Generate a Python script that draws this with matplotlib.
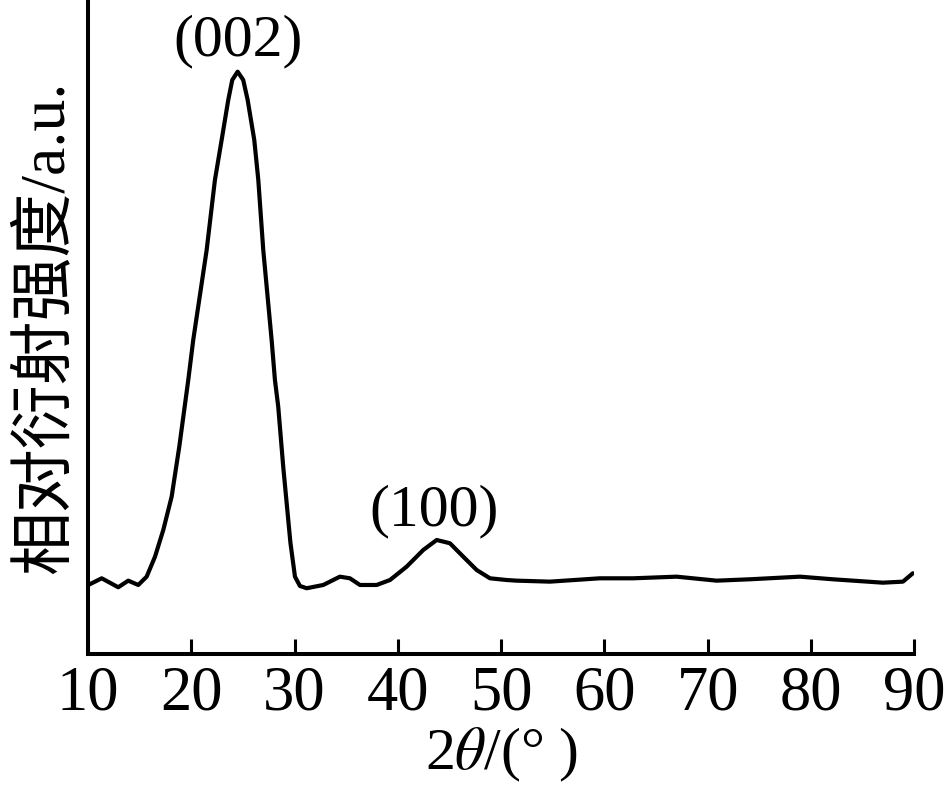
import matplotlib
matplotlib.use("Agg")
import matplotlib.pyplot as plt

plt.rcParams['font.family'] = ['Liberation Serif', 'Noto Sans CJK SC']
plt.rcParams['mathtext.fontset'] = 'stix'

two_theta = [10.03, 11.33, 12.93, 13.90, 14.87, 15.68, 16.49, 17.29, 18.10, 18.84,
             19.71, 20.19, 21.49, 22.29, 22.94, 23.58, 23.97, 24.49, 25.03, 25.46,
             26.10, 26.49, 26.97, 27.78, 28.10, 28.42, 28.91, 29.60, 30.04, 30.52,
             31.17, 32.78, 34.39, 35.36, 36.33, 37.95, 39.24, 40.85, 42.46, 43.76,
             45.04, 46.33, 47.63, 48.92, 50.53, 51.50, 54.72, 59.56, 62.76, 66.99,
             70.86, 74.09, 78.93, 82.12, 86.96, 88.90, 89.86]
intensity = [10.55, 11.57, 10.20, 11.21, 10.55, 11.82, 14.88, 18.96, 24.05, 31.70,
             41.90, 48.01, 61.77, 72.48, 78.59, 84.71, 87.77, 89.04, 87.77, 84.71,
             78.59, 72.48, 61.77, 48.01, 41.90, 37.81, 28.50, 17.00, 11.82, 10.40,
             10.05, 10.55, 11.82, 11.57, 10.55, 10.55, 11.31, 13.35, 15.90, 17.43,
             16.93, 14.88, 12.84, 11.57, 11.31, 11.21, 11.06, 11.57, 11.57, 11.82,
             11.21, 11.42, 11.82, 11.42, 10.90, 11.06, 12.34]

xticks = [10, 20, 30, 40, 50, 60, 70, 80, 90]
peak_labels = ["(002)", "(100)"]
peak_x = [24.5, 43.5]
peak_y = [91.6, 19.7]

fig = plt.figure(figsize=(9.45, 7.95), dpi=100)
ax = fig.add_axes([0.0931, 0.1774, 0.8744, 0.8226])
ax.plot(two_theta, intensity, color='black', lw=3.0,
        solid_joinstyle='round', solid_capstyle='round')
ax.set_xlim(10, 90)
ax.set_ylim(0, 100)
ax.spines['top'].set_visible(False)
ax.spines['right'].set_visible(False)
for s in ['left', 'bottom']:
    ax.spines[s].set_linewidth(2.9)
ax.set_yticks([])
ax.set_xticks(xticks)
ax.set_xticklabels([str(t) for t in xticks])
ax.tick_params(axis='x', direction='in', length=11, width=2.2, labelsize=45, pad=8)

for lab, x, y in zip(peak_labels, peak_x, peak_y):
    ax.text(x, y, lab, ha='center', va='baseline', fontsize=43)

ax.set_xlabel('2$\\theta$/(° )', fontsize=43, labelpad=2)
ax.set_ylabel('相对衍射强度/a.u.', fontsize=46, labelpad=8)

fig.savefig('out.png', dpi=100)
